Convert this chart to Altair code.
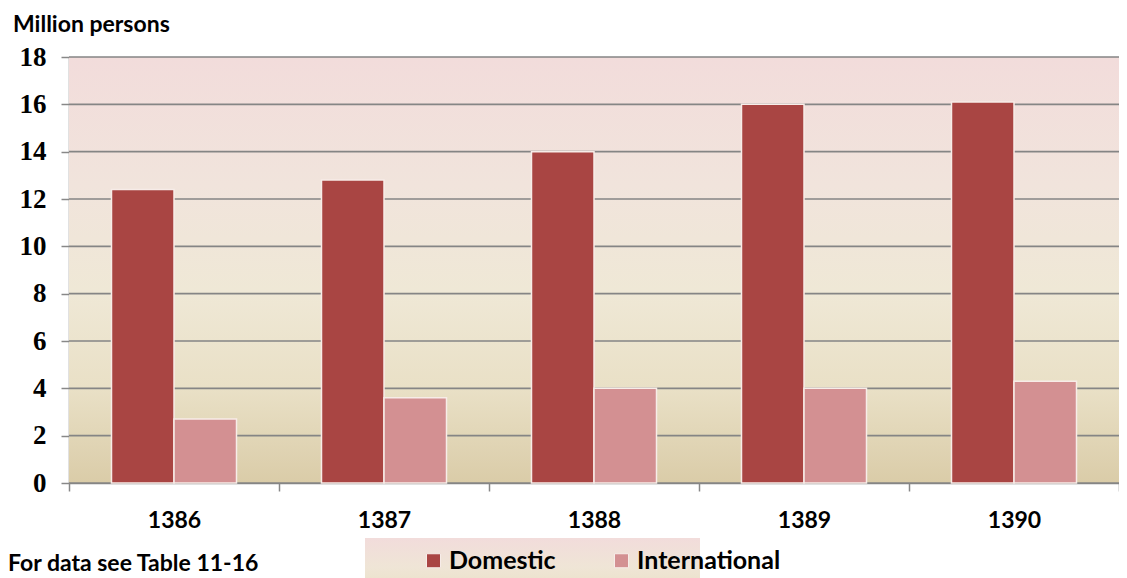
import altair as alt
import pandas as pd

years = ["1386", "1387", "1388", "1389", "1390"]
domestic = [12.4, 12.8, 14.0, 16.0, 16.1]
international = [2.7, 3.6, 4.0, 4.0, 4.3]
series = ["Domestic", "International"]
colors = ["#a94543", "#d39092"]
y_ticks = list(range(0, 20, 2))

rows = []
for i, yr in enumerate(years):
    rows.append({"year": yr, "type": series[0], "value": domestic[i]})
    rows.append({"year": yr, "type": series[1], "value": international[i]})
df = pd.DataFrame(rows)

FONT = "Lato"

bg_grad = alt.LinearGradient(
    gradient="linear",
    stops=[
        alt.GradientStop(color="#f2dcdb", offset=0.0),
        alt.GradientStop(color="#f1e4dc", offset=0.3),
        alt.GradientStop(color="#efe8d6", offset=0.55),
        alt.GradientStop(color="#e9e0c6", offset=0.78),
        alt.GradientStop(color="#dacca8", offset=1.0),
    ],
    x1=0, x2=0, y1=0, y2=1,
)

legend_grad = alt.LinearGradient(
    gradient="linear",
    stops=[
        alt.GradientStop(color="#f2dcdb", offset=0.0),
        alt.GradientStop(color="#efe5d6", offset=0.6),
        alt.GradientStop(color="#ebe2c9", offset=1.0),
    ],
    x1=0, x2=0, y1=0, y2=1,
)

y_scale = alt.Scale(domain=[0, 18], nice=False)
y_axis = alt.Axis(
    title=None,
    values=y_ticks,
    labelFont="Liberation Serif",
    labelFontSize=27,
    labelFontWeight="bold",
    labelColor="#000000",
    labelPadding=15,
    tickSize=8,
    tickColor="#888888",
    tickWidth=1.5,
    domainColor="#888888",
    domainWidth=1.5,
    grid=False,
)

background = alt.Chart(pd.DataFrame({"k": [0]})).mark_rect(fill=bg_grad).encode(
    x=alt.value(0), x2=alt.value("width"), y=alt.value(0), y2=alt.value("height")
)

grid = alt.Chart(pd.DataFrame({"v": y_ticks})).mark_rule(color="#858585", strokeWidth=1.6).encode(
    y=alt.Y("v:Q", scale=y_scale, axis=y_axis)
)

legend_box = alt.Chart(pd.DataFrame({"k": [0]})).mark_rect(fill=legend_grad).encode(
    x=alt.value(296), x2=alt.value(631), y=alt.value(481), y2=alt.value(530)
)

bars = alt.Chart(df).mark_bar(stroke="#f7ece8", strokeWidth=1.5).encode(
    x=alt.X(
        "year:N",
        sort=years,
        scale=alt.Scale(paddingInner=0, paddingOuter=0),
        axis=alt.Axis(
            title=None,
            labelAngle=0,
            labelFont=FONT,
            labelFontSize=23,
            labelFontWeight="bold",
            labelColor="#000000",
            labelPadding=18,
            tickBand="extent",
            tickSize=8,
            tickColor="#888888",
            tickWidth=1.5,
            domainColor="#888888",
            domainWidth=1.5,
            grid=False,
        ),
    ),
    xOffset=alt.XOffset(
        "type:N", sort=series, scale=alt.Scale(paddingInner=0, paddingOuter=0.68)
    ),
    y=alt.Y("value:Q", scale=y_scale, axis=y_axis),
    color=alt.Color(
        "type:N",
        sort=series,
        scale=alt.Scale(domain=series, range=colors),
        legend=alt.Legend(
            title=None,
            orient="none",
            legendX=352,
            legendY=491,
            direction="horizontal",
            symbolType="square",
            symbolSize=196,
            symbolStrokeColor="#f7ece8",
            symbolStrokeWidth=1,
            labelFont=FONT,
            labelFontSize=25,
            labelFontWeight="bold",
            labelColor="#000000",
            labelOffset=3,
            columnPadding=53,
            padding=0,
        ),
    ),
)

ytitle = alt.Chart(pd.DataFrame({"t": ["Million persons"]})).mark_text(
    font=FONT, fontSize=23, fontWeight="bold", align="left", baseline="alphabetic", color="#000000"
).encode(text="t:N", x=alt.value(-56), y=alt.value(-25))

note = alt.Chart(pd.DataFrame({"t": ["For data see Table 11-16"]})).mark_text(
    font=FONT, fontSize=23, fontWeight="bold", align="left", baseline="alphabetic", color="#000000"
).encode(text="t:N", x=alt.value(-61), y=alt.value(514))

chart = (
    alt.layer(background, grid, legend_box, bars, ytitle, note)
    .properties(
        width=1050,
        height=426,
        padding={"left": 61, "top": 49, "right": 0, "bottom": 95},
        autosize=alt.AutoSizeParams(type="none"),
        background="#ffffff",
    )
    .configure_view(stroke=None)
)

chart.save("out.html", embed_options={"renderer": "svg", "actions": False})
